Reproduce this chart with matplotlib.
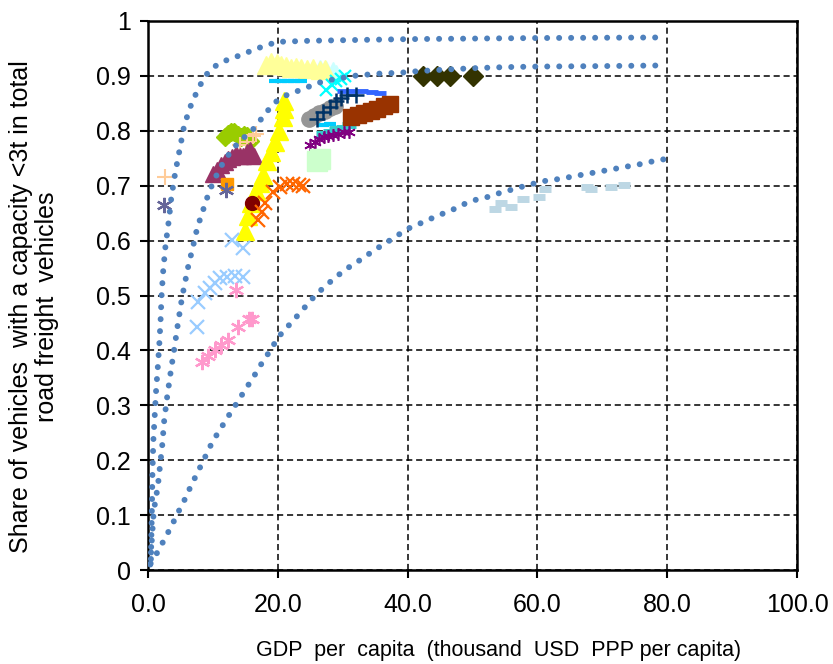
import matplotlib
matplotlib.use("Agg")
import matplotlib.pyplot as plt

plt.rcParams["font.family"] = ["Liberation Sans", "DejaVu Sans"]

# ── Trend curves ─────────────────────────────────────────────────────────────
curve_top_x = [0.45, 0.55, 0.62, 0.67, 0.82, 1.03, 1.23, 1.5, 1.75, 1.95, 2.1, 2.35,
               2.7, 3.2, 3.6, 4.2, 4.9, 5.6, 6.8, 8.5, 9.55, 11.0, 12.8, 14.6, 16.3,
               18.1, 19.9, 25, 30, 40, 50, 60, 79]
curve_top_y = [0.02, 0.08, 0.124, 0.168, 0.235, 0.28, 0.324, 0.368, 0.413, 0.458,
               0.502, 0.546, 0.591, 0.636, 0.679, 0.724, 0.767, 0.811, 0.853, 0.894,
               0.911, 0.923, 0.932, 0.939, 0.948, 0.955, 0.962, 0.964, 0.965, 0.967,
               0.968, 0.969, 0.970]

curve_mid_x = [0.35, 0.57, 0.82, 1.03, 1.34, 1.6, 1.8, 2.0, 2.2, 2.5, 2.97, 3.5, 3.8,
               4.1, 4.6, 5.2, 5.55, 6.3, 6.8, 7.6, 8.2, 8.8, 9.4, 10, 11, 12, 13, 14,
               15, 16, 16.9, 18.0, 19.3, 20.7, 22.5, 24.3, 26.1, 27.9, 29.8, 31.6,
               33.4, 35.3, 37.2, 39.1, 40.9, 45, 50, 55, 60, 71, 79]
curve_mid_y = [0.01, 0.051, 0.096, 0.118, 0.14, 0.162, 0.184, 0.206, 0.228, 0.273,
               0.317, 0.361, 0.384, 0.407, 0.448, 0.493, 0.515, 0.559, 0.582, 0.624,
               0.645, 0.667, 0.688, 0.705, 0.73, 0.75, 0.765, 0.78, 0.79, 0.80, 0.813,
               0.830, 0.849, 0.862, 0.870, 0.878, 0.887, 0.892, 0.896, 0.900, 0.902,
               0.904, 0.905, 0.906, 0.908, 0.911, 0.914, 0.916, 0.917, 0.918, 0.919]

curve_low_x = [0.4, 1.54, 2.4, 3.3, 4.16, 4.98, 5.86, 6.6, 7.45, 8.27, 9.1, 9.9, 10.9,
               11.9, 12.9, 13.9, 14.9, 15.9, 16.9, 17.9, 19.0, 19.9, 21.2, 22.4, 23.7,
               24.9, 26.2, 27.6, 29.0, 30.5, 32.1, 33.7, 35.2, 36.8, 38.4, 39.9, 41.7,
               43.4, 45.2, 46.9, 48.6, 50.4, 52.2, 54.0, 55.8, 57.6, 59.5, 61.3, 63.2,
               65.1, 66.9, 68.8, 70.6, 72.5, 74.3, 76.2, 78.0, 79.9]
curve_low_y = [0.012, 0.034, 0.053, 0.073, 0.093, 0.113, 0.133, 0.153, 0.173, 0.193,
               0.213, 0.233, 0.252, 0.271, 0.29, 0.308, 0.327, 0.345, 0.364, 0.384,
               0.402, 0.422, 0.439, 0.455, 0.472, 0.489, 0.505, 0.52, 0.534, 0.548,
               0.56, 0.573, 0.585, 0.597, 0.609, 0.621, 0.63, 0.639, 0.648, 0.656,
               0.666, 0.674, 0.679, 0.686, 0.692, 0.698, 0.704, 0.709, 0.712, 0.716,
               0.72, 0.724, 0.728, 0.732, 0.736, 0.74, 0.745, 0.749]

# ── Country series (GDP per capita, share of light vehicles) ────────────────
light_cyan_x = [26.5, 27.5, 28.5, 29.0]
light_cyan_y = [0.915, 0.912, 0.91, 0.905]
pale_yellow_x = [18.2, 19.0, 19.8, 20.5, 21.3, 22.0, 22.8, 23.5, 24.5, 25.5, 26.5, 27.3]
pale_yellow_y = [0.92, 0.925, 0.923, 0.92, 0.918, 0.915, 0.917, 0.915, 0.913, 0.915, 0.91, 0.913]
sky_dash_x = [19.5, 20.5, 21.5, 22.5, 23.5, 27.0, 28.0]
sky_dash_y = [0.891, 0.890, 0.890, 0.891, 0.891, 0.81, 0.812]
cyan_x_x = [27.5, 28.3, 29.0, 29.7, 30.3]
cyan_x_y = [0.875, 0.883, 0.89, 0.895, 0.9]
blue_dash_x = [30.0, 31.5, 33.0, 34.5, 35.8]
blue_dash_y = [0.872, 0.873, 0.872, 0.87, 0.868]
grey_x = [24.8, 25.6, 26.4, 27.2, 28.0, 28.8]
grey_y = [0.822, 0.827, 0.832, 0.836, 0.841, 0.846]
teal_dash_x = [27.0, 28.0, 29.0, 30.0, 31.0]
teal_dash_y = [0.795, 0.798, 0.803, 0.806, 0.81]
navy_plus_x = [26.0, 27.0, 28.0, 29.0, 29.8, 30.6, 32.1]
navy_plus_y = [0.822, 0.835, 0.844, 0.854, 0.859, 0.865, 0.865]
brown_x = [31.3, 32.3, 33.3, 34.3, 35.3, 36.3, 37.3]
brown_y = [0.825, 0.828, 0.832, 0.836, 0.84, 0.845, 0.849]
purple_x = [25.0, 25.7, 26.4, 27.1, 27.8, 28.5, 29.3, 30.2, 31.0]
purple_y = [0.775, 0.78, 0.785, 0.788, 0.79, 0.792, 0.795, 0.797, 0.798]
mint_x = [26.1, 26.5]
mint_y = [0.745, 0.748]
olive_x = [42.4, 44.5, 46.5, 50.0]
olive_y = [0.90, 0.90, 0.90, 0.90]
steel_dash_x = [53.5, 54.4, 55.9, 57.8, 60.2, 61.2, 67.6, 68.3, 71.3, 73.4]
steel_dash_y = [0.658, 0.669, 0.661, 0.676, 0.68, 0.694, 0.698, 0.694, 0.698, 0.701]

green_x = [11.8, 12.3, 12.8, 13.3, 13.8, 14.3, 14.8, 15.3, 15.7]
green_y = [0.788, 0.795, 0.798, 0.797, 0.792, 0.788, 0.793, 0.79, 0.782]
peach_x = [2.6, 14.2, 15.2, 16.2, 16.6]
peach_y = [0.715, 0.775, 0.78, 0.79, 0.795]
maroon_x = [10.0, 10.6, 11.2, 11.8, 12.3, 12.9, 13.5, 14.1, 14.6, 15.2, 15.7, 16.4]
maroon_y = [0.722, 0.728, 0.737, 0.744, 0.749, 0.752, 0.757, 0.755, 0.754, 0.762, 0.765, 0.754]
orange_x = [12.1]
orange_y = [0.703]
slate_x = [2.4, 12.0]
slate_y = [0.665, 0.693]
yellow_x = [15.0, 15.4, 15.9, 16.6, 17.2, 17.7, 18.3, 18.9, 19.5, 20.2, 20.8, 21.0, 21.0]
yellow_y = [0.617, 0.645, 0.668, 0.69, 0.705, 0.72, 0.745, 0.762, 0.78, 0.80, 0.825, 0.84, 0.855]
darkred_x = [16.1]
darkred_y = [0.668]
orange_x_x = [16.9, 17.5, 18.0, 19.2, 20.4, 21.4, 22.4, 23.3, 23.9]
orange_x_y = [0.637, 0.652, 0.668, 0.688, 0.698, 0.703, 0.704, 0.702, 0.700]
lightblue_x = [7.5, 7.7, 8.8, 9.6, 10.3, 11.1, 12.1, 13.4, 14.7, 12.9, 14.7]
lightblue_y = [0.443, 0.489, 0.504, 0.513, 0.522, 0.531, 0.534, 0.535, 0.534, 0.601, 0.586]
pink_x = [8.25, 9.3, 10.3, 11.3, 12.4, 13.9, 15.5, 16.0, 13.6]
pink_y = [0.379, 0.389, 0.40, 0.41, 0.419, 0.443, 0.458, 0.458, 0.51]

x_ticks = [0, 20, 40, 60, 80, 100]
y_ticks = [0, 0.1, 0.2, 0.3, 0.4, 0.5, 0.6, 0.7, 0.8, 0.9, 1.0]

CURVE_BLUE = "#4F81BD"
STAR = (6, 2, 0)   # asterisk like Excel's "*" marker

fig = plt.figure(figsize=(8.33, 6.64), dpi=100)
ax = fig.add_axes([148 / 833, 1 - 570 / 664, 649 / 833, 549 / 664])


def pts(x, y, marker, color, ms, mew=1.0, **kw):
    ax.plot(x, y, linestyle="none", marker=marker, color=color, markersize=ms,
            markeredgewidth=mew, **kw)


# back-to-front roughly as in the original
pts(light_cyan_x, light_cyan_y, "^", "#CCFFFF", 12)
pts(pale_yellow_x, pale_yellow_y, "^", "#FFFF99", 13)
pts(sky_dash_x, sky_dash_y, "_", "#00CCFF", 8, mew=3)
pts(cyan_x_x, cyan_x_y, "x", "#00FFFF", 9, mew=1.6)
pts(blue_dash_x, blue_dash_y, "_", "#3366FF", 9, mew=3.5)
pts(grey_x, grey_y, "o", "#969696", 11)
pts(teal_dash_x, teal_dash_y, "_", "#33CCCC", 10, mew=5)
pts(navy_plus_x, navy_plus_y, "+", "#003366", 11, mew=1.8)
pts(brown_x, brown_y, "s", "#993300", 11)
pts(purple_x, purple_y, STAR, "#800080", 9, mew=1.2)
pts(mint_x, mint_y, "s", "#CCFFCC", 14)
pts(olive_x, olive_y, "D", "#333300", 10)
pts(steel_dash_x, steel_dash_y, "_", "#BDD7E4", 9, mew=5)

pts(green_x, green_y, "D", "#99CC00", 9)
pts(peach_x, peach_y, "+", "#FFCC99", 12, mew=1.5)
pts(maroon_x, maroon_y, "^", "#993366", 12)
pts(orange_x, orange_y, "s", "#FF9900", 9)
pts(slate_x, slate_y, STAR, "#666699", 11, mew=1.6)
pts(yellow_x, yellow_y, "^", "#FFFF00", 13)
pts(darkred_x, darkred_y, "o", "#800000", 10)
pts(orange_x_x, orange_x_y, "x", "#FF6600", 10, mew=1.6)
pts(lightblue_x, lightblue_y, "x", "#99CCFF", 10, mew=1.6)
pts(pink_x, pink_y, STAR, "#FF99CC", 11, mew=1.6)

# dotted trend curves on top
for cx, cy in [(curve_top_x, curve_top_y), (curve_mid_x, curve_mid_y),
               (curve_low_x, curve_low_y)]:
    ax.plot(cx, cy, color=CURVE_BLUE, linewidth=4.3, linestyle=(0, (0.01, 2.0)),
            dash_capstyle="round", solid_capstyle="round", zorder=5)

ax.set_xlim(0, 100)
ax.set_ylim(0, 1)
ax.set_xticks(x_ticks)
ax.set_xticklabels([f"{v:.1f}" for v in x_ticks])
ax.set_yticks(y_ticks)
ax.set_yticklabels(["0" if v == 0 else ("1" if v == 1 else f"{v:.1f}") for v in y_ticks])
ax.tick_params(labelsize=18, length=5.5, width=1.5, colors="black")
ax.tick_params(axis="x", pad=11)
ax.tick_params(axis="y", pad=7)

ax.set_axisbelow(True)
ax.grid(True, color="black", linestyle=(0, (4, 2.5)), linewidth=1.1)
for s in ax.spines.values():
    s.set_color("black")
    s.set_linewidth(1.8)

ax.set_xlabel("GDP  per  capita  (thousand  USD  PPP per capita)", fontsize=15.5)
ax.xaxis.set_label_coords(0.54, -0.128)
ax.set_ylabel("Share of vehicles  with a capacity <3t in total\nroad freight  vehicles",
              fontsize=18, linespacing=1.1)
ax.yaxis.label.set_verticalalignment("center")
ax.yaxis.set_label_coords(-0.175, 0.48)

fig.savefig("out.png", dpi=100)
